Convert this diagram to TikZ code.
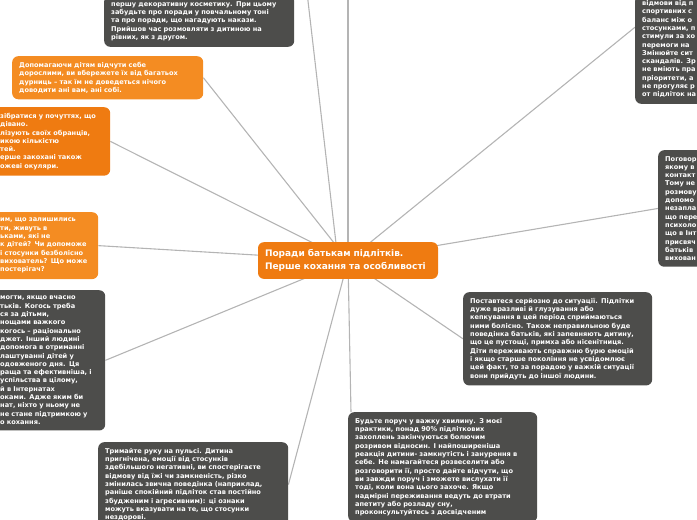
\documentclass[tikz,border=0pt]{standalone}
\usepackage{fontspec}
\setmainfont{DejaVu Sans}
\usetikzlibrary{backgrounds}
\definecolor{boxgray}{HTML}{4D4D4B}
\definecolor{mainorange}{HTML}{EF7B11}
\definecolor{lightorange}{HTML}{F48C22}
\definecolor{linegray}{HTML}{B4B4B4}
\begin{document}
\begin{tikzpicture}[x=1pt,y=-1pt,
    note/.style={rounded corners=6pt,text=white,align=left,inner xsep=7pt,inner ysep=6pt,
      font={\fontsize{6.6}{8.3}\selectfont\bfseries},text width=#1},
    darknote/.style={note=#1,fill=boxgray},
    orangenote/.style={note=#1,fill=lightorange},
    link/.style={draw=linegray,line width=1.1pt}]
  \useasboundingbox (0,0) rectangle (697,520);
  \clip (0,0) rectangle (697,520);

  \node[fill=mainorange,rounded corners=6pt,text=white,align=left,text width=166pt,
    inner xsep=7pt,inner ysep=7.6pt,font={\fontsize{9}{12.5}\selectfont\bfseries}] (center) at (348,260.5)
    {Поради батькам підлітків.\\Перше кохання та особливості};

  \node[darknote=176pt,anchor=south west] (friend) at (104,47)
    {першу декоративну косметику. При цьому\\забудьте про поради у повчальному тоні\\та про поради, що нагадують накази.\\Прийшов час розмовляти з дитиною на\\рівних, як з другом.};
  \node[orangenote=177pt,anchor=north west] (adult) at (12,56)
    {Допомагаючи дітям відчути себе\\дорослими, ви вбережете їх від багатьох\\дурниць – так їм не доведеться нічого\\доводити ані вам, ані собі.};
  \node[note=103pt,fill=mainorange,anchor=north west] (feel) at (-7,107)
    {зібратися у почуттях, що\\дівано.\\лізують своїх обранців,\\икою кількістю\\тей.\\ерше закохані також\\ожеві окуляри.};
  \node[orangenote=91pt,anchor=north west] (boarding) at (-7,212)
    {им, що залишились\\ти, живуть в\\ьками, які не\\к дітей? Чи допоможе\\і стосунки безболісно\\вихователь? Що може\\постерігач?};
  \node[darknote=98pt,anchor=north west] (help) at (-7,290)
    {могти, якщо вчасно\\тьків. Когось треба\\ся за дітьми,\\нощами важкого\\ когось – раціонально\\джет. Інший людині\\допомога в отриманні\\лаштуванні дітей у\\одовженого дня. Ця\\раща та ефективніша, і\\успільства в цілому,\\й в Інтернатах\\оками. Адже яким би\\нат, ніхто у ньому не\\не стане підтримкою у\\о кохання.};
  \node[darknote=176pt,anchor=north west] (pulse) at (98,442)
    {Тримайте руку на пульсі. Дитина\\пригнічена, емоції від стосунків\\здебільшого негативні, ви спостерігаєте\\відмову від їжі чи замкненість, різко\\змінилась звична поведінка (наприклад,\\раніше спокійний підліток став постійно\\збудженим і агресивним): ці ознаки\\можуть вказувати на те, що стосунки\\нездорові.};
  \node[darknote=175pt,anchor=north west] (nearby) at (348,412)
    {Будьте поруч у важку хвилину. З моєї\\практики, понад 90\% підліткових\\захоплень закінчуються болючим\\розривом відносин. І найпоширеніша\\реакція дитини- замкнутість і занурення в\\себе. Не намагайтеся розвеселити або\\розговорити її, просто дайте відчути, що\\ви завжди поруч і зможете вислухати її\\тоді, коли вона цього захоче. Якщо\\надмірні переживання ведуть до втрати\\апетиту або розладу сну,\\проконсультуйтесь з досвідченим};
  \node[darknote=175pt,anchor=north west] (serious) at (463,292)
    {Поставтеся серйозно до ситуації. Підлітки\\дуже вразливі й глузування або\\кепкування в цей період сприймаються\\ними болісно. Також неправильною буде\\поведінка батьків, які запевняють дитину,\\що це пустощі, примха або нісенітниця.\\Діти переживають справжню бурю емоцій\\і якщо старше покоління не усвідомлює\\цей факт, то за порадою у важкій ситуації\\вони прийдуть до іншої людини.};
  \node[darknote=176pt,anchor=south west] (sport) at (635,104)
    {відмови від п\\спортивних с\\баланс між о\\стосунками, п\\стимули за хо\\перемоги на\\Змінюйте сит\\скандалів. Зр\\не вміють пра\\пріоритети, а\\не прогуляє р\\от підліток на};
  \node[darknote=176pt,anchor=north west] (talk) at (658,150)
    {Поговор\\якому в\\контакт\\Тому не\\розмову\\допомо\\незапла\\що пере\\психоло\\що в Інт\\присвяч\\батьків\\вихован};

  \coordinate (upA) at (305,-25);
  \coordinate (upB) at (348,-25);

  \begin{pgfonlayer}{background}
    \draw[link] ([xshift=-10pt]center.center) -- (upA);
    \draw[link] (center.center) -- (upB);
    \draw[link] (center.center) -- ([yshift=22pt]sport.west);
    \draw[link] (center.center) -- (talk.west);
    \draw[link] (center.center) -- (adult.east);
    \draw[link] (center.center) -- (feel.east);
    \draw[link] (center.center) -- (boarding.east);
    \draw[link] (center.center) -- (help.east);
    \draw[link] (center.center) -- (pulse.east);
    \draw[link] (center.center) -- ([xshift=3pt]nearby.north west);
    \draw[link] (center.center) -- (serious.west);
  \end{pgfonlayer}
\end{tikzpicture}
\end{document}
